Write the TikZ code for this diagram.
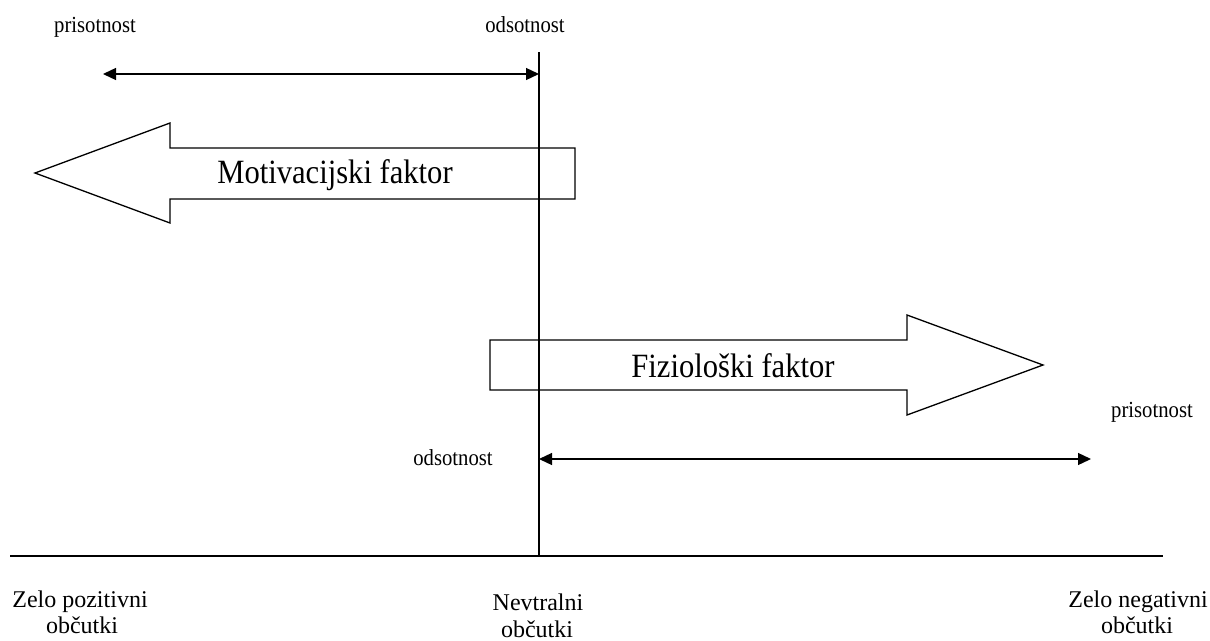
\documentclass[tikz,border=0pt]{standalone}
\usepackage{fontspec}
\setmainfont{Liberation Serif}
\newfontfamily\narrowserif[FakeStretch=0.9]{Liberation Serif}
\usetikzlibrary{arrows.meta}
\begin{document}
\begin{tikzpicture}[x=1pt,y=-1pt,
  thin line/.style={line width=1.3pt},
  span arrow/.style={line width=1.3pt,{Triangle[length=13pt,width=12pt]}-{Triangle[length=13pt,width=12pt]}},
  blockarrow/.style={line width=1.3pt,fill=white},
  small label/.style={font=\narrowserif\fontsize{23}{25}\selectfont,anchor=base,inner sep=0pt},
  big label/.style={font=\narrowserif\fontsize{34}{36}\selectfont,anchor=base,inner sep=0pt},
  scale label/.style={font=\fontsize{24}{26}\selectfont,anchor=base,inner sep=0pt}]
\useasboundingbox (0,0) rectangle (1210,640);

% horizontal scale
\coordinate (axisL) at (10,556);
\coordinate (axisR) at (1163,556);
\draw[line width=2.4pt] (axisL) -- (axisR);

% neutral vertical line
\coordinate (neutTop) at (539,52);
\coordinate (neutBot) at (539,556);

% motivating factor block arrow (points left)
\draw[blockarrow] (575,148) -- (170,148) -- (170,123) -- (35,173)
  -- (170,223) -- (170,199) -- (575,199) -- cycle;
\node[big label] (motiv) at (335,183) {Motivacijski faktor};

% physiological factor block arrow (points right)
\draw[blockarrow] (490,340) -- (907,340) -- (907,315) -- (1043,365)
  -- (907,415) -- (907,390) -- (490,390) -- cycle;
\node[big label] (fizio) at (733,377) {Fiziološki faktor};

\draw[thin line] (neutTop) -- (neutBot);

% ranges
\coordinate (topL) at (103,74);
\coordinate (topR) at (539,74);
\draw[span arrow] (topL) -- (topR);
\coordinate (botL) at (539,459);
\coordinate (botR) at (1091,459);
\draw[span arrow] (botL) -- (botR);

% range labels
\node[small label] (pris1) at (95,32) {prisotnost};
\node[small label] (ods1) at (525,32) {odsotnost};
\node[small label] (pris2) at (1152,417) {prisotnost};
\node[small label] (ods2) at (453,465) {odsotnost};

% scale labels
\node[scale label] (pos) at (80,607) {Zelo pozitivni};
\node[scale label] (pos2) at (82,633) {občutki};
\node[scale label] (neu) at (538,610) {Nevtralni};
\node[scale label] (neu2) at (537,637) {občutki};
\node[scale label] (neg) at (1138,607) {Zelo negativni};
\node[scale label] (neg2) at (1137,633) {občutki};
\end{tikzpicture}
\end{document}
